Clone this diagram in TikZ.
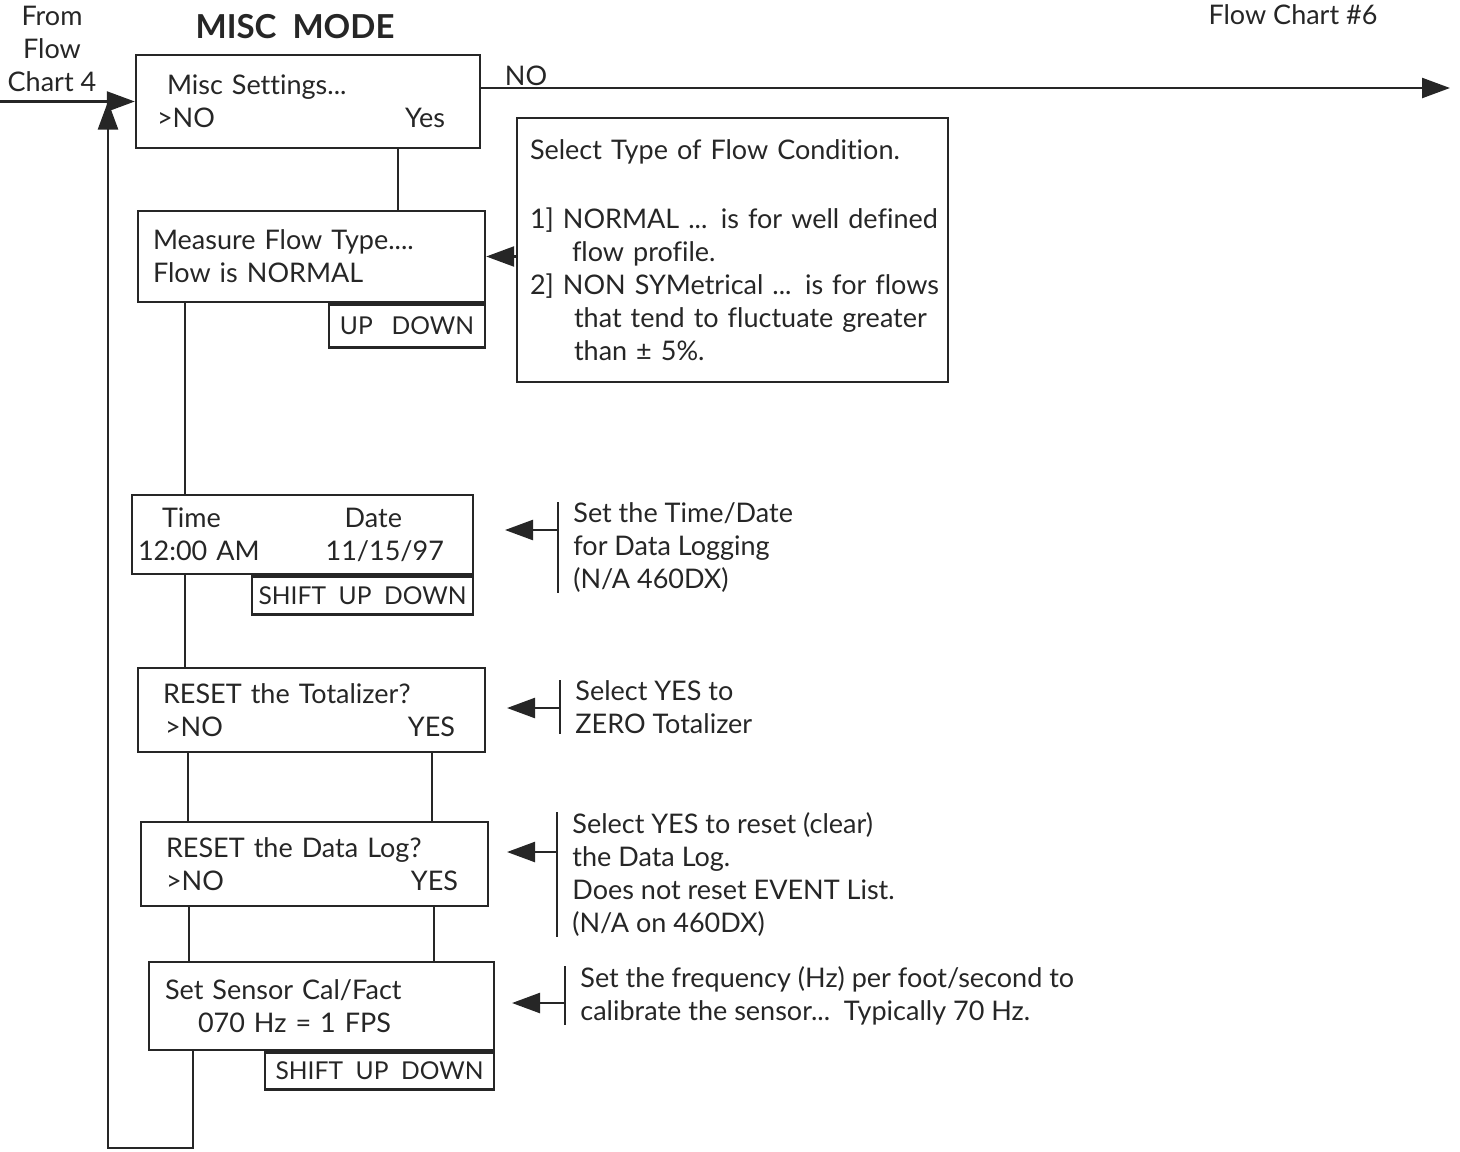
\documentclass[tikz,border=0pt]{standalone}
\usepackage{fontspec}
\setmainfont{Lato}[Ligatures=NoCommon]
\usepackage{tikz}
\usetikzlibrary{arrows.meta}

\tikzset{
  screen/.style={draw=black!85, line width=1.2pt, inner sep=0pt, align=left},
  keys/.style={draw=black!85, line width=1.2pt, inner sep=0pt, anchor=north east,
    font=\fontsize{12.3}{15}\selectfont},
  note/.style={inner xsep=7.5pt, inner ysep=0pt, align=left, anchor=north west},
  flow/.style={draw=black!85, line width=1.2pt},
  arr/.style={flow, -{Triangle[length=14pt,width=10pt]}},
}

\begin{document}
\begin{tikzpicture}[x=0.5pt,y=-0.5pt,font=\fontsize{13.5}{16.5}\selectfont,text=black!85]
\useasboundingbox (0,0) rectangle (1460,1151);

% Headings
\node[align=center] (from) at (52,49) {From\\Flow\\Chart 4};
\node (title) at (295,27) {\bfseries\fontsize{16.5}{18}\selectfont MISC\ \ MODE};
\node (next) at (1293,15) {Flow Chart \#6};

% Screens
\node[screen, text width=172pt, minimum height=46.5pt] (b1) at (308,101.5)
  {\hspace*{15.5pt}Misc Settings...\\\hspace*{10.5pt}>NO\hfill Yes\hspace*{17.5pt}};
\node[screen, text width=173.5pt, minimum height=45.5pt] (b2) at (311.5,256.5)
  {\hspace*{7.5pt}Measure Flow Type....\\\hspace*{7.5pt}Flow is NORMAL};
\node[screen, text width=170.5pt, minimum height=39.5pt] (b3) at (302.5,534.5)
  {\hspace*{15pt}Time\hfill Date\hspace*{35.5pt}\null\\\hspace*{3pt}12:00 AM\hfill 11/15/97\hspace*{14.5pt}};
\node[screen, text width=173.5pt, minimum height=42pt] (b4) at (311.5,710)
  {\hspace*{12.5pt}RESET the Totalizer?\\\hspace*{13.5pt}>NO\hfill YES\hspace*{15pt}};
\node[screen, text width=173.5pt, minimum height=42pt] (b5) at (314.5,864)
  {\hspace*{12.5pt}RESET the Data Log?\\\hspace*{12.5pt}>NO\hfill YES\hspace*{15pt}};
\node[screen, text width=172.5pt, minimum height=44pt] (b6) at (321.5,1006)
  {\hspace*{8pt}Set Sensor Cal/Fact\\\hspace*{24.5pt}070 Hz = 1 FPS};

% Key strips
\node[keys, minimum width=78pt, minimum height=21.5pt] (k2) at (b2.south east) {UP\ \ \ DOWN};
\node[keys, minimum width=110.5pt, minimum height=19pt] (k3) at (b3.south east) {SHIFT\ \ UP\ \ DOWN};
\node[keys, minimum width=114.5pt, minimum height=18.5pt] (k6) at (b6.south east) {SHIFT\ \ UP\ \ DOWN};

% Flow condition help
\node[screen, text width=215.5pt, minimum height=132pt] (info) at (732.5,250)
  {\hspace*{6.5pt}Select Type of Flow Condition.\\[18pt]
   \hspace*{6.5pt}1] NORMAL ... is for well defined\\
   \hspace*{27.5pt}flow profile.\\
   \hspace*{6.5pt}2] NON SYMetrical ... is for flows\\
   \hspace*{28.5pt}that tend to fluctuate greater\\
   \hspace*{28.5pt}than ± 5\%.};

% Side notes
\node[note] (n3) at (558,502) {Set the Time/Date\\for Data Logging\\(N/A 460DX)};
\node[note] (n4) at (560,680) {Select YES to\\ZERO Totalizer};
\node[note] (n5) at (557,812) {Select YES to reset (clear)\\the Data Log.\\Does not reset EVENT List.\\(N/A on 460DX)};
\node[note] (n6) at (565,966) {Set the frequency (Hz) per foot/second to\\calibrate the sensor...\ \ Typically 70 Hz.};
\foreach \n in {n3,n4,n5,n6}
  \draw[flow] (\n.north west) -- (\n.south west);

% Note arrow tips
\coordinate (t3) at (505,530);
\coordinate (t4) at (507,708);
\coordinate (t5) at (507,852);
\coordinate (t6) at (512,1003);
\foreach \n/\t in {n3/t3,n4/t4,n5/t5,n6/t6}
  \draw[arr] (\t -| \n.west) -- (\t);
\draw[arr] (info.west |- b2.east) -- (b2.east);

% Entry and exit
\coordinate (entry) at (0,101.5);
\coordinate (exit) at (1450,88);
\draw[arr] (entry) -- (b1.west);
\draw[arr] (b1.east |- exit) -- (exit);
\node[anchor=south, inner sep=1pt] (nolab) at (526,88) {NO};

% Links between screens
\draw[flow] (b1.south -| 398,0) -- (b2.north -| 398,0);
\draw[flow] (b2.south -| 185,0) -- (b3.north -| 185,0);
\draw[flow] (b3.south -| 185,0) -- (b4.north -| 185,0);
\draw[flow] (b4.south -| 188,0) -- (b5.north -| 188,0);
\draw[flow] (b4.south -| 432,0) -- (b5.north -| 432,0);
\draw[flow] (b5.south -| 189,0) -- (b6.north -| 189,0);
\draw[flow] (b5.south -| 434,0) -- (b6.north -| 434,0);

% Return loop
\draw[arr] (b6.south -| 193,0) |- (108,1148) -- (entry -| 108,0);

\end{tikzpicture}
\end{document}
